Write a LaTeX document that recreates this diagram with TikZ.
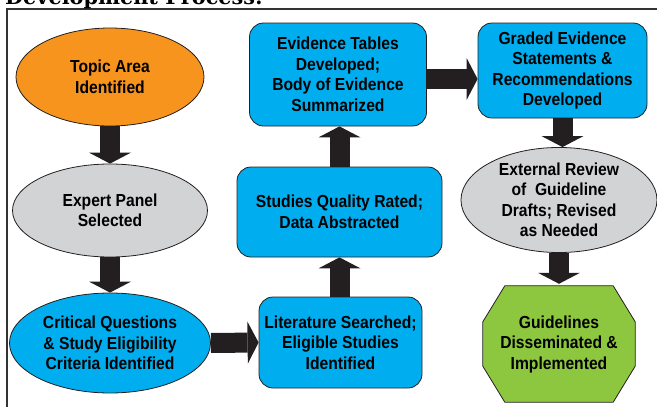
\documentclass[tikz,border=0pt]{standalone}
\usepackage{fontspec}
\newfontfamily\boxfont{Liberation Sans}[FakeStretch=0.9]
\newfontfamily\headfont{DejaVu Serif}
\usetikzlibrary{shapes.geometric,arrows.meta,backgrounds}

\definecolor{topicorange}{HTML}{F7941E}
\definecolor{stepblue}{HTML}{00AEEF}
\definecolor{panelgray}{HTML}{D1D3D4}
\definecolor{guidegreen}{HTML}{8DC63F}
\definecolor{inkdark}{HTML}{231F20}
\definecolor{framegray}{HTML}{333333}

\begin{document}
\begin{tikzpicture}[
    x=1pt, y=-1pt,
    txt/.style={font=\boxfont\bfseries\fontsize{17.4}{20.5}\selectfont, align=center, inner sep=0pt},
    oval/.style={txt, ellipse, draw=inkdark, line width=0.8pt},
    stepbox/.style={txt, rectangle, rounded corners=14pt, draw=inkdark, line width=0.8pt, fill=stepblue},
    flow/.style={draw=inkdark, line width=20pt, -{Triangle[length=11pt, width=42pt, line width=0pt]}},
]
    \useasboundingbox (0,0) rectangle (657,407);

    % Frame and heading
    \draw[framegray, line width=2.5pt] (7,420) -- (7,9) -- (670,9);
    \node[anchor=base west, inner sep=0pt, font=\headfont\bfseries\fontsize{20.8}{24}\selectfont] (title) at (5,4.5) {Development Process:};

    % Left column
    \node[oval, fill=topicorange, minimum width=188pt, minimum height=98pt] (topic) at (110,77) {Topic Area\\Identified};
    \node[oval, fill=panelgray, minimum width=195pt, minimum height=93pt] (panel) at (110,210.5) {Expert Panel\\Selected};
    \node[oval, fill=stepblue, minimum width=201pt, minimum height=100pt] (questions) at (110,343) {Critical Questions\\\& Study Eligibility\\Criteria Identified};

    % Middle column
    \node[stepbox, minimum width=163pt, minimum height=91pt] (search) at (340.5,342.5) {Literature Searched;\\Eligible Studies\\Identified};
    \node[stepbox, minimum width=205pt, minimum height=90pt] (rating) at (339.5,212) {Studies Quality Rated;\\Data Abstracted};
    \node[stepbox, minimum width=177pt, minimum height=103pt] (tables) at (338,74.5) {Evidence Tables\\Developed;\\Body of Evidence\\Summarized};

    % Right column
    \node[stepbox, minimum width=169pt, minimum height=95pt] (graded) at (562.5,70.5) {Graded Evidence\\Statements \&\\Recommendations\\Developed};
    \node[oval, fill=panelgray, minimum width=196pt, minimum height=101pt] (review) at (559,200) {External Review\\of~ Guideline\\Drafts; Revised\\as Needed};
    \node[txt, minimum width=152pt, minimum height=116pt] (guide) at (559,344) {Guidelines\\Disseminated \&\\Implemented};
    \begin{scope}[on background layer]
        \filldraw[fill=guidegreen, draw=inkdark, line width=0.8pt]
            ([xshift=22pt]guide.north west) -- ([xshift=-22pt]guide.north east)
            -- ([yshift=-36pt]guide.north east) -- ([yshift=36pt]guide.south east)
            -- ([xshift=-22pt]guide.south east) -- ([xshift=22pt]guide.south west)
            -- ([yshift=36pt]guide.south west) -- ([yshift=-36pt]guide.north west) -- cycle;
    \end{scope}

    % Block arrows
    \draw[flow] (topic.south) -- (panel.north);
    \draw[flow] (panel.south) -- (questions.north);
    \draw[flow] (questions.east) -- (search.west);
    \draw[flow] (rating.south |- search.north) -- (rating.south);
    \draw[flow] (rating.north) -- (rating.north |- tables.south);
    \draw[flow] ([yshift=-4.5pt]tables.east) -- ([yshift=-4.5pt]tables.east -| graded.west);
    \draw[flow] (graded.south) -- (graded.south |- review.north);
    \draw[flow] (review.south) -- ([yshift=2pt]guide.north);

\end{tikzpicture}
\end{document}
